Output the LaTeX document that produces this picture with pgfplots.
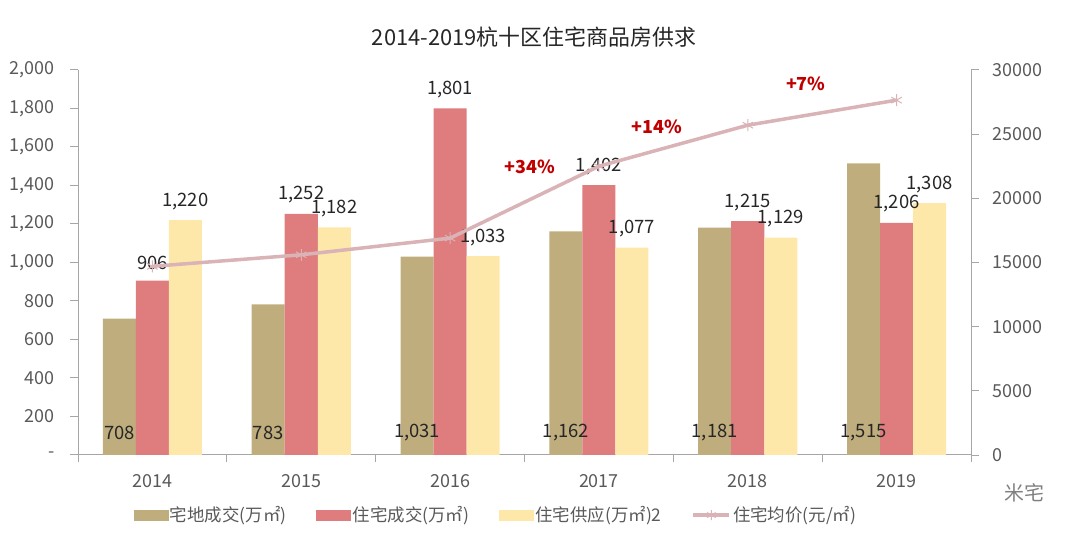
\documentclass[border=0pt]{standalone}
\usepackage{pgfplots}
\pgfplotsset{compat=1.18}
\usepackage{fontspec}
\setmainfont{Noto Sans CJK SC}
\definecolor{tanc}{HTML}{BFAD7D}
\definecolor{redc}{HTML}{DF7C7D}
\definecolor{yelc}{HTML}{FEE8A9}
\definecolor{linec}{HTML}{D9B3B6}
\definecolor{axisgray}{HTML}{A6A6A6}
\definecolor{ticktext}{HTML}{595959}
\definecolor{labtext}{HTML}{262626}
\definecolor{pctred}{HTML}{C00000}
\pgfplotsset{/pgf/number format/assume math mode=true}
\begin{document}
\begin{tikzpicture}
\path[use as bounding box] (0,0) rectangle (1080bp,543bp);
\begin{axis}[
  at={(78bp,88bp)}, anchor=south west, scale only axis,
  width=893bp, height=385bp,
  xmin=-0.5, xmax=5.5, ymin=0, ymax=2000,
  clip=false,
  axis x line*=bottom, axis y line*=left,
  axis line style={draw=axisgray, line width=1bp},
  tick align=outside,
  xtick={0,1,2,3,4,5},
  xticklabels={2014,2015,2016,2017,2018,2019},
  major x tick style={draw=none},
  minor xtick={-0.5,0.5,1.5,2.5,3.5,4.5,5.5},
  minor x tick style={draw=axisgray, line width=1bp},
  minor tick length=7bp,
  major tick length=8bp,
  ytick={0,200,...,2000},
  yticklabels={-,200,400,600,800,{1,000},{1,200},{1,400},{1,600},{1,800},{2,000}},
  y tick style={draw=axisgray, line width=1bp},
  xticklabel style={font=\fontsize{18}{20}\selectfont, text=ticktext, yshift=-8bp},
  yticklabel style={font=\fontsize{18}{20}\selectfont, text=ticktext, xshift=-12bp},
  bar width=0.222,
  /pgf/number format/1000 sep={,},
  nodes near coords style={font=\fontsize{18.5}{20}\selectfont, text=labtext},
]
\addplot[ybar, bar shift=-0.222, fill=tanc, draw=none] coordinates {(0,708) (1,783) (2,1031) (3,1162) (4,1181) (5,1515)};
\addplot[ybar, bar shift=0, fill=redc, draw=none, nodes near coords, every node near coord/.append style={yshift=7bp}] coordinates {(0,906) (1,1252) (2,1801) (3,1402) (4,1215) (5,1206)};
\addplot[ybar, bar shift=0.222, fill=yelc, draw=none, nodes near coords, every node near coord/.append style={yshift=7bp, xshift=33bp}] coordinates {(0,1220) (1,1182) (2,1033) (3,1077) (4,1129) (5,1308)};
\addplot[draw=none, mark=none, nodes near coords, point meta=explicit, nodes near coords align={center}] coordinates {(-0.222,114)[708] (0.778,114)[783] (1.778,114)[1031] (2.778,114)[1162] (3.778,114)[1181] (4.778,114)[1515]};
\end{axis}
\begin{axis}[
  at={(78bp,88bp)}, anchor=south west, scale only axis,
  width=893bp, height=385bp,
  xmin=-0.5, xmax=5.5, ymin=0, ymax=30000,
  clip=false,
  axis x line=none, axis y line*=right,
  axis line style={draw=axisgray, line width=1bp},
  tick align=outside,
  major tick length=8bp,
  ytick={0,5000,...,30000},
  scaled y ticks=false,
  y tick style={draw=axisgray, line width=1bp},
  /pgf/number format/1000 sep={},
  yticklabel style={font=\fontsize{18}{20}\selectfont, text=ticktext, xshift=10bp},
  legend style={at={(0.468,-0.156)}, anchor=center, draw=none, fill=none,
    font=\fontsize{17.5}{20}\selectfont, text=ticktext,
    /tikz/every even column/.append style={column sep=28bp},
    legend cell align=left},
  legend columns=4,
]
\addlegendimage{legend image code/.code={\fill[tanc] (0bp,-5bp) rectangle (34bp,5bp);}}
\addlegendentry{宅地成交(万㎡)}
\addlegendimage{legend image code/.code={\fill[redc] (0bp,-5bp) rectangle (34bp,5bp);}}
\addlegendentry{住宅成交(万㎡)}
\addlegendimage{legend image code/.code={\fill[yelc] (0bp,-5bp) rectangle (34bp,5bp);}}
\addlegendentry{住宅供应(万㎡)2}
\addplot[color=linec, line width=3.5bp, mark=asterisk, mark size=6bp, mark options={line width=1bp},
  legend image code/.code={\draw[linec, line width=3.5bp] (0bp,0bp) -- (36bp,0bp); \draw[linec, line width=1bp] plot[mark=asterisk, mark size=5bp] coordinates {(18bp,0bp)};}]
  coordinates {(0,14700) (1,15600) (2,16900) (3,22500) (4,25700) (5,27650)};
\addlegendentry{住宅均价(元/㎡)}
\node[font=\fontsize{18}{20}\selectfont\bfseries, text=pctred] at (axis cs:2.537,22440) {+34\%};
\node[font=\fontsize{18}{20}\selectfont\bfseries, text=pctred] at (axis cs:3.39,25560) {+14\%};
\node[font=\fontsize{18}{20}\selectfont\bfseries, text=pctred] at (axis cs:4.39,28910) {+7\%};
\end{axis}
\node[font=\fontsize{22}{24}\selectfont, text=labtext] at (534bp,506bp) {2014-2019杭十区住宅商品房供求};
\node[font=\fontsize{20}{22}\selectfont, text=gray] at (1024bp,50bp) {米宅};
\end{tikzpicture}
\end{document}
